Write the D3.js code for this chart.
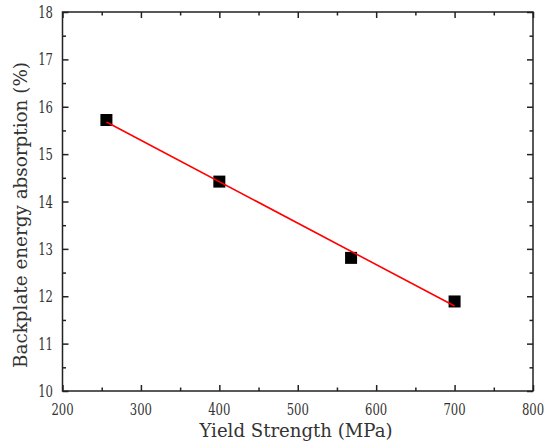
<!DOCTYPE html>
<html>
<head>
<meta charset="utf-8">
<script src="https://cdn.jsdelivr.net/npm/d3@7"></script>
<style>
  html, body { margin: 0; padding: 0; background: #fff; }
  svg { display: block; }
</style>
</head>
<body>
<svg id="chart" width="545" height="446"></svg>
<script>
// Yield strength (MPa) of each backplate material
const yieldStrength = [256, 400, 568, 700];
// Share of impact energy absorbed by the backplate (%)
const energyAbsorption = [15.72, 14.42, 12.81, 11.89];

const xTicks = [200, 300, 400, 500, 600, 700, 800];
const yTicks = [10, 11, 12, 13, 14, 15, 16, 17, 18];
const xMinorTicks = [250, 350, 450, 550, 650, 750];
const yMinorTicks = [10.5, 11.5, 12.5, 13.5, 14.5, 15.5, 16.5, 17.5];

const xTitle = "Yield Strength (MPa)";
const yTitle = "Backplate energy absorption (%)";

const W = 545, H = 446;
const margin = { left: 62.5, right: 12, top: 12, bottom: 55 };
const FONT = "'DejaVu Serif Condensed', 'DejaVu Serif', serif";
const svg = d3.select("#chart");

const x = d3.scaleLinear().domain([200, 800]).range([margin.left, W - margin.right]);
const y = d3.scaleLinear().domain([10, 18]).range([H - margin.bottom, margin.top]);

const axisColor = "#222";
const majorLen = 6, minorLen = 3.5;
const digitWidth = 7.4;

// Ticks point inward on all four sides
function drawTicks(g) {
  g.selectAll("line").attr("stroke", axisColor).attr("stroke-width", 1.5);
  g.select(".domain").remove();
}

const axes = [
  [d3.axisBottom, `translate(0,${y.range()[0]})`, x, xTicks, xMinorTicks],
  [d3.axisTop, `translate(0,${y.range()[1]})`, x, xTicks, xMinorTicks],
  [d3.axisLeft, `translate(${x.range()[0]},0)`, y, yTicks, yMinorTicks],
  [d3.axisRight, `translate(${x.range()[1]},0)`, y, yTicks, yMinorTicks]
];
axes.forEach(([fn, tr, sc, major, minor]) => {
  svg.append("g").attr("transform", tr)
    .call(fn(sc).tickValues(major).tickSize(-majorLen).tickFormat(""))
    .call(drawTicks);
  svg.append("g").attr("transform", tr)
    .call(fn(sc).tickValues(minor).tickSize(-minorLen).tickFormat(""))
    .call(drawTicks);
});

// Plot frame
svg.append("rect")
  .attr("x", x.range()[0]).attr("y", y.range()[1])
  .attr("width", x.range()[1] - x.range()[0])
  .attr("height", y.range()[0] - y.range()[1])
  .attr("fill", "none").attr("stroke", axisColor).attr("stroke-width", 1.5);

// Tick labels
svg.append("g").selectAll("text").data(xTicks).join("text")
  .attr("x", d => x(d)).attr("y", y(10) + 24)
  .attr("text-anchor", "middle").attr("font-size", 16)
  .attr("font-family", FONT).attr("fill", "#333")
  .attr("textLength", d => String(d).length * digitWidth).attr("lengthAdjust", "spacingAndGlyphs")
  .text(d => d);
svg.append("g").selectAll("text").data(yTicks).join("text")
  .attr("x", x(200) - 9.5).attr("y", d => y(d) + 6)
  .attr("text-anchor", "end").attr("font-size", 16)
  .attr("font-family", FONT).attr("fill", "#333")
  .attr("textLength", d => String(d).length * digitWidth).attr("lengthAdjust", "spacingAndGlyphs")
  .text(d => d);

// Axis titles
svg.append("text")
  .attr("x", 296).attr("y", 437)
  .attr("text-anchor", "middle").attr("font-size", 19)
  .attr("font-family", FONT).attr("fill", "#333")
  .attr("textLength", 193).attr("lengthAdjust", "spacingAndGlyphs")
  .text(xTitle);
svg.append("text")
  .attr("transform", `translate(27,215) rotate(-90)`)
  .attr("text-anchor", "middle").attr("font-size", 19)
  .attr("font-family", FONT).attr("fill", "#333")
  .attr("textLength", 306).attr("lengthAdjust", "spacingAndGlyphs")
  .text(yTitle);

// Least-squares linear fit through the measured points
const mx = d3.mean(yieldStrength), my = d3.mean(energyAbsorption);
let sxy = 0, sxx = 0;
yieldStrength.forEach((v, i) => {
  sxy += (v - mx) * (energyAbsorption[i] - my);
  sxx += (v - mx) * (v - mx);
});
const slope = sxy / sxx, intercept = my - slope * mx;
const xExtent = d3.extent(yieldStrength);
const fitLine = d3.line().x(d => x(d)).y(d => y(intercept + slope * d));

// Measured points as filled squares
const sq = 12;
svg.append("g").selectAll("rect").data(yieldStrength).join("rect")
  .attr("x", d => x(d) - sq / 2)
  .attr("y", (d, i) => y(energyAbsorption[i]) - sq / 2)
  .attr("width", sq).attr("height", sq)
  .attr("fill", "#000");

svg.append("path")
  .attr("d", fitLine(xExtent))
  .attr("fill", "none").attr("stroke", "#ff0000").attr("stroke-width", 1.6);
</script>
</body>
</html>
